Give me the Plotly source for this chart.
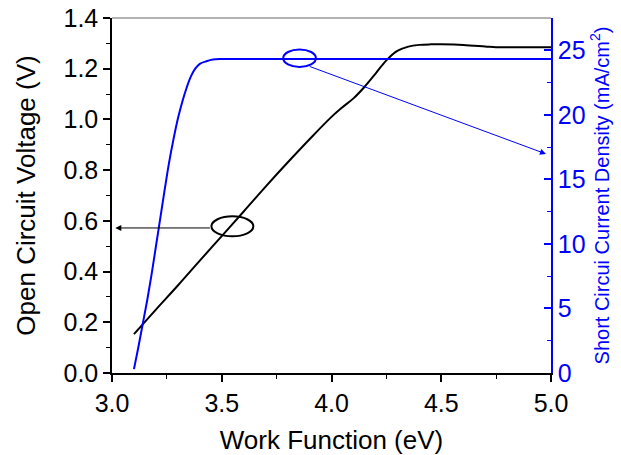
import plotly.graph_objects as go

# Open-circuit voltage vs work function
wf_voc = [3.10, 3.20, 3.30, 3.40, 3.50, 3.60, 3.70, 3.80, 3.90, 4.00, 4.05, 4.10, 4.15,
          4.20, 4.25, 4.30, 4.35, 4.40, 4.45, 4.50, 4.60, 4.70, 4.75, 4.80, 4.90, 5.00]
voc = [0.153, 0.250, 0.345, 0.443, 0.540, 0.637, 0.735, 0.830, 0.922, 1.010, 1.048, 1.083, 1.128,
       1.180, 1.233, 1.270, 1.287, 1.294, 1.296, 1.296, 1.294, 1.288, 1.285, 1.285, 1.285, 1.285]

# Short-circuit current density vs work function
wf_jsc = [3.10, 3.12, 3.14, 3.16, 3.18, 3.20, 3.22, 3.24, 3.26, 3.28, 3.30, 3.32, 3.34,
          3.36, 3.38, 3.40, 3.43, 3.46, 3.50, 3.60, 4.00, 4.50, 5.00]
jsc = [0.3, 2.0, 3.8, 5.6, 7.6, 9.8, 12.0, 14.2, 16.3, 18.1, 19.7, 21.0, 22.1,
       23.0, 23.6, 23.95, 24.15, 24.28, 24.32, 24.33, 24.33, 24.33, 24.33]

FONT = "Liberation Sans, Arial, sans-serif"
BLUE = "#0000ff"

fig = go.Figure()
fig.add_trace(go.Scatter(x=wf_voc, y=voc, mode="lines", line=dict(color="black", width=2, shape="spline"),
                         showlegend=False))
fig.add_trace(go.Scatter(x=wf_jsc, y=jsc, mode="lines", line=dict(color=BLUE, width=2, shape="spline"),
                         yaxis="y2", showlegend=False))

fig.update_layout(
    width=621, height=455,
    margin=dict(l=112, r=70, t=18, b=82),
    paper_bgcolor="white", plot_bgcolor="white",
    font=dict(family=FONT, size=25, color="black"),
    xaxis=dict(range=[3.0, 5.0], dtick=0.5, tick0=3.0, tickformat=".1f", automargin=False,
               showline=True, linecolor="black", linewidth=1.5, showgrid=False, zeroline=False,
               ticks="outside", ticklen=7, tickwidth=1.5, tickcolor="black",
               minor=dict(ticks="outside", ticklen=4, dtick=0.25, tickcolor="black", tickwidth=1),
               title=dict(text="Work Function (eV)", font=dict(size=26), standoff=16)),
    yaxis=dict(range=[0, 1.4], dtick=0.2, tickformat=".1f", automargin=False,
               showline=True, linecolor="black", linewidth=1.5, showgrid=False, zeroline=False,
               ticks="outside", ticklen=7, tickwidth=1.5, tickcolor="black",
               minor=dict(ticks="outside", ticklen=4, dtick=0.1, tickcolor="black", tickwidth=1),
               title=dict(text="Open Circuit Voltage (V)", font=dict(size=26), standoff=20)),
    yaxis2=dict(range=[0, 27.5], dtick=5, overlaying="y", side="right", anchor="x", automargin=False,
                showline=True, linecolor=BLUE, linewidth=1.5, showgrid=False, zeroline=False,
                ticks="inside", ticklen=7, tickwidth=1.5, tickcolor=BLUE,
                minor=dict(ticks="inside", ticklen=4, dtick=2.5, tickcolor=BLUE, tickwidth=1),
                tickfont=dict(color=BLUE, size=25),
                title=dict(text="Short Circui Current Density (mA/cm<sup>2</sup>)",
                           font=dict(size=20, color=BLUE), standoff=10)),
)

# top frame line
fig.add_shape(type="line", xref="paper", yref="paper", x0=0, x1=1, y0=1, y1=1,
              line=dict(color="#666666", width=1))

# ellipses marking the curves
fig.add_shape(type="circle", xref="x", yref="y", x0=3.453, x1=3.644, y0=0.539, y1=0.618,
              line=dict(color="black", width=2))
fig.add_shape(type="circle", xref="x", yref="y", x0=3.780, x1=3.929, y0=1.207, y1=1.276,
              line=dict(color=BLUE, width=2))

# arrows pointing to the axes
fig.add_annotation(x=3.015, y=0.572, ax=3.453, ay=0.572, xref="x", yref="y", axref="x", ayref="y",
                   text="", showarrow=True, arrowhead=2, arrowsize=1.2, arrowwidth=1, arrowcolor="black")
fig.add_annotation(x=4.977, y=0.864, ax=3.894, ay=1.211, xref="x", yref="y", axref="x", ayref="y",
                   text="", showarrow=True, arrowhead=2, arrowsize=1.2, arrowwidth=1, arrowcolor=BLUE)

fig.write_html("out.html")
